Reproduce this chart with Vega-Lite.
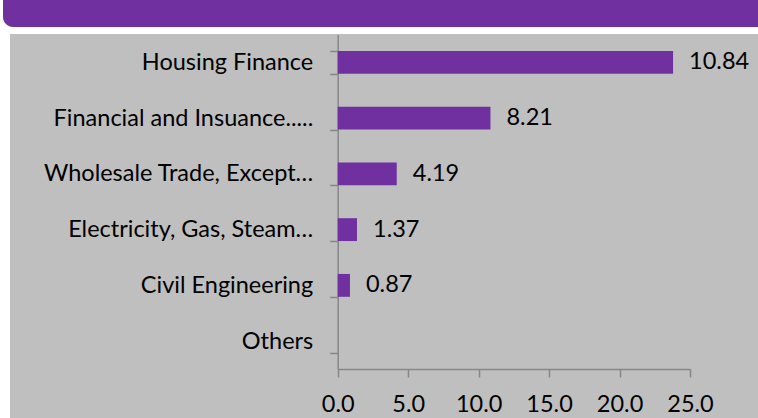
{
  "$schema": "https://vega.github.io/schema/vega-lite/v6.json",
  "background": "white",
  "autosize": {"type": "none"},
  "padding": {"left": 10, "top": 34, "right": 0, "bottom": 0},
  "width": 748,
  "height": 384,
  "config": {"view": {"stroke": null, "fill": "#bfbfbf"}},
  "resolve": {"scale": {"x": "independent", "y": "independent"}, "axis": {"x": "independent", "y": "independent"}},
  "layer": [
    {
      "data": {"values": [
        {"sector": "Housing Finance", "value": 23.8, "label": "10.84"},
        {"sector": "Financial and Insuance.....", "value": 10.84, "label": "8.21"},
        {"sector": "Wholesale Trade, Except…", "value": 4.19, "label": "4.19"},
        {"sector": "Electricity, Gas, Steam…", "value": 1.37, "label": "1.37"},
        {"sector": "Civil Engineering", "value": 0.87, "label": "0.87"},
        {"sector": "Others", "value": 0, "label": ""}
      ]},
      "encoding": {
        "y": {
          "field": "sector", "type": "nominal", "sort": null,
          "scale": {"range": [0.5, 335], "paddingInner": 0.59, "paddingOuter": 0.295},
          "axis": {
            "title": null, "orient": "left", "offset": -327.7,
            "tickBand": "extent", "ticks": true, "tickSize": 8, "tickWidth": 1.5,
            "tickColor": "#878787", "domainColor": "#878787", "domainWidth": 1.5,
            "labelFont": "Lato", "labelFontSize": 23.5, "labelColor": "#000000",
            "labelPadding": 17, "labelLimit": 400, "grid": false
          }
        },
        "x": {
          "field": "value", "type": "quantitative",
          "scale": {"domain": [0, 25], "range": [327.7, 680], "nice": false, "zero": true},
          "axis": {
            "title": null, "orient": "bottom", "offset": -49,
            "values": [0, 5, 10, 15, 20, 25], "format": ".1f",
            "labelFlush": false, "labelOverlap": false,
            "tickSize": 8, "tickWidth": 1.5, "tickColor": "#878787",
            "domainColor": "#878787", "domainWidth": 1.5,
            "labelFont": "Lato", "labelFontSize": 23.5, "labelColor": "#000000",
            "labelPadding": 15, "grid": false
          }
        }
      },
      "layer": [
        {"mark": {"type": "bar", "color": "#7030a0"}},
        {
          "mark": {"type": "text", "align": "left", "baseline": "middle", "dx": 16, "font": "Lato", "fontSize": 23.5, "color": "#000000"},
          "encoding": {"text": {"field": "label"}}
        }
      ]
    },
    {
      "data": {"values": [{"band": "header"}]},
      "mark": {"type": "rect", "color": "#7030a0", "cornerRadiusBottomLeft": 10, "clip": false},
      "encoding": {
        "x": {"datum": 0, "type": "quantitative", "scale": {"domain": [0, 1], "range": [-7, 770], "nice": false, "zero": false}, "axis": null},
        "x2": {"datum": 1},
        "y": {"datum": 1, "type": "quantitative", "scale": {"domain": [0, 1], "range": [-7, -34], "nice": false, "zero": false}, "axis": null},
        "y2": {"datum": 0}
      }
    }
  ]
}
